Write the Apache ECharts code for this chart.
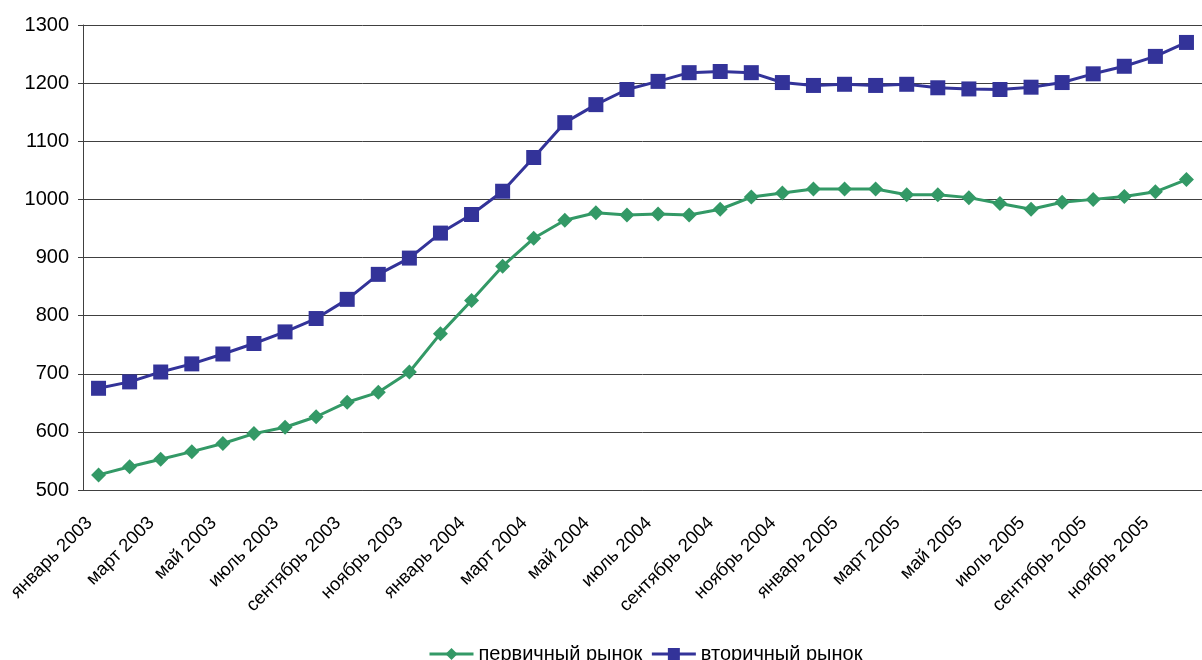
<!DOCTYPE html>
<html>
<head>
<meta charset="utf-8">
<script src="https://cdn.jsdelivr.net/npm/echarts@6/dist/echarts.min.js"></script>
<style>
  html, body { margin: 0; padding: 0; background: #fff; }
  #chart { width: 1202px; height: 660px; }
</style>
</head>
<body>
<div id="chart"></div>
<script>
// Months Jan 2003 – Dec 2005
const monthNames = ['январь', 'февраль', 'март', 'апрель', 'май', 'июнь',
  'июль', 'август', 'сентябрь', 'октябрь', 'ноябрь', 'декабрь'];
const years = [2003, 2004, 2005];
const categories = [];
years.forEach(y => monthNames.forEach(m => categories.push(m + ' ' + y)));

// Primary market
const primaryMarket = [
  526, 540, 553, 566, 580, 597, 608, 626, 651, 668, 703, 769,
  826, 885, 933, 964, 977, 973, 975, 973, 983, 1004, 1011, 1018,
  1018, 1018, 1008, 1008, 1003, 993, 983, 995, 1000, 1005, 1013, 1034
];
// Secondary market
const secondaryMarket = [
  675, 686, 703, 717, 734, 752, 772, 795, 828, 871, 899, 942,
  974, 1014, 1072, 1132, 1163, 1189, 1203, 1218, 1220, 1218, 1201, 1196,
  1198, 1196, 1198, 1192, 1190, 1189, 1193, 1201, 1216, 1229, 1246, 1270
];

const yMin = 500, yMax = 1300, yStep = 100;

const chart = echarts.init(document.getElementById('chart'), null, { renderer: 'canvas' });
const font = 'Arial, "Liberation Sans", sans-serif';

chart.setOption({
  animation: false,
  backgroundColor: '#ffffff',
  textStyle: { fontFamily: font },
  // plot area runs a little past the right edge of the canvas
  grid: { left: 83, top: 25, width: 1131, bottom: 170, containLabel: false },
  legend: {
    left: 423,
    top: 639,
    itemWidth: 44,
    itemHeight: 15,
    itemGap: 8,
    lineStyle: { width: 3 },
    textStyle: { fontSize: 20, color: '#000', fontFamily: font },
    data: ['первичный рынок', 'вторичный рынок']
  },
  xAxis: {
    type: 'category',
    data: categories,
    boundaryGap: true,
    axisLine: { lineStyle: { color: '#404040', width: 1 } },
    axisTick: { interval: 0, length: 6, lineStyle: { color: '#404040' } },
    axisLabel: {
      interval: 1,
      rotate: 45,
      margin: 21,
      padding: [0, 13, 0, 0],
      fontSize: 18.5,
      color: '#000',
      fontFamily: font
    },
    splitLine: { show: false }
  },
  yAxis: {
    type: 'value',
    min: yMin,
    max: yMax,
    interval: yStep,
    axisLine: { show: true, lineStyle: { color: '#404040', width: 1 } },
    axisTick: { show: true, length: 5, lineStyle: { color: '#404040' } },
    axisLabel: {
      fontSize: 20,
      color: '#000',
      margin: 14,
      fontFamily: font,
      formatter: v => String(v)
    },
    splitLine: { lineStyle: { color: '#404040', width: 1 } }
  },
  series: [
    {
      name: 'первичный рынок',
      type: 'line',
      data: primaryMarket,
      symbol: 'diamond',
      symbolSize: 15,
      color: '#339966',
      lineStyle: { width: 3, color: '#339966' },
      itemStyle: { color: '#339966' }
    },
    {
      name: 'вторичный рынок',
      type: 'line',
      data: secondaryMarket,
      symbol: 'rect',
      symbolSize: 15,
      color: '#333399',
      lineStyle: { width: 3, color: '#333399' },
      itemStyle: { color: '#333399' }
    }
  ]
});
</script>
</body>
</html>
